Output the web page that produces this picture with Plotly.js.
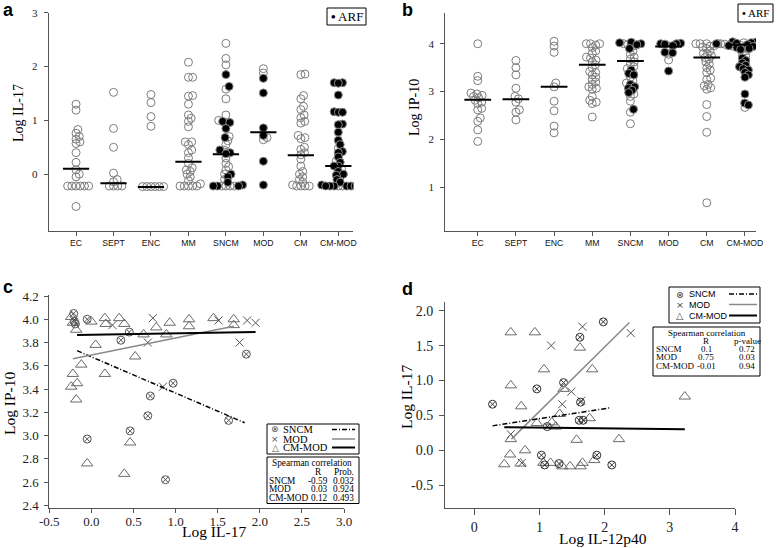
<!DOCTYPE html>
<html>
<head>
<meta charset="utf-8">
<script src="https://cdn.plot.ly/plotly-3.0.1.min.js"></script>
<style>html,body{margin:0;padding:0;background:#fff}</style>
</head>
<body>
<div id="chart" style="width:777px;height:548px"></div>
<script>
// groups on the x axis of panels a and b
var cats = ['EC', 'SEPT', 'ENC', 'MM', 'SNCM', 'MOD', 'CM', 'CM-MOD'];

// panel a: Log IL-17, non-ARF (open) and ARF (filled) per group
var il17Open = [
  [1.30, 1.19, 0.83, 0.76, 0.70, 0.65, 0.60, 0.57, 0.40, 0.22, 0.08, 0.0, -0.05, -0.22, -0.22, -0.22, -0.22, -0.22, -0.22, -0.60],
  [1.52, 0.85, 0.50, 0.02, -0.10, -0.14, -0.22, -0.22, -0.22, -0.22],
  [1.48, 1.33, 1.07, 0.89, -0.23, -0.23, -0.23, -0.23, -0.23, -0.23],
  [2.08, 1.80, 1.80, 1.46, 1.45, 1.30, 1.10, 1.04, 0.98, 0.88, 0.60, 0.60, 0.55, 0.45, 0.40, 0.30, 0.20, 0.12, 0.08, 0.05, 0.0, -0.05, -0.12, -0.18, -0.22, -0.22, -0.22, -0.22, -0.22],
  [2.43, 2.15, 2.03, 1.58, 1.40, 1.10, 1.00, 0.93, 0.70, 0.62, 0.55, 0.45, 0.30, 0.20, 0.14, 0.08, 0.0, -0.10, -0.22, -0.22, -0.22, -0.22],
  [1.96, 1.88, 0.68, 0.64],
  [1.86, 1.85, 1.46, 1.40, 1.26, 1.20, 1.10, 1.05, 0.98, 0.95, 0.72, 0.68, 0.66, 0.50, 0.46, 0.40, 0.36, 0.28, 0.15, 0.05, 0.0, -0.05, -0.10, -0.15, -0.20, -0.22, -0.22, -0.22, -0.22],
  [0.48, 0.25, 0.10, -0.05, -0.22, -0.22]
];
var il17Arf = [
  [], [], [], [],
  [1.85, 1.63, 0.98, 0.96, 0.85, 0.68, 0.45, 0.40, 0.38, 0.0, -0.05, -0.15, -0.20, -0.22, -0.22, -0.22],
  [1.78, 1.51, 0.86, 0.72, 0.24, -0.20],
  [],
  [1.70, 1.70, 1.69, 1.47, 1.16, 1.15, 1.15, 0.93, 0.92, 0.78, 0.63, 0.55, 0.42, 0.40, 0.32, 0.22, 0.15, 0.15, 0.05, 0.0, -0.02, -0.10, -0.15, -0.18, -0.20, -0.22, -0.22, -0.22, -0.22, -0.22, -0.22]
];
var il17Median = [0.10, -0.17, -0.24, 0.23, 0.37, 0.78, 0.35, 0.15];

// panel b: Log IP-10
var ip10Open = [
  [4.00, 3.32, 3.23, 2.97, 2.95, 2.92, 2.90, 2.87, 2.82, 2.78, 2.75, 2.65, 2.62, 2.45, 2.38, 2.20, 1.96],
  [3.65, 3.50, 3.35, 3.07, 2.90, 2.85, 2.78, 2.62, 2.57, 2.41],
  [4.05, 3.95, 3.82, 3.18, 3.10, 2.80, 2.60, 2.28, 2.14],
  [4.00, 4.00, 4.00, 3.97, 3.92, 3.85, 3.80, 3.72, 3.70, 3.66, 3.62, 3.56, 3.50, 3.42, 3.40, 3.35, 3.30, 3.25, 3.20, 3.15, 3.10, 3.07, 3.05, 2.90, 2.82, 2.78, 2.75, 2.47],
  [4.00, 3.98, 3.95, 3.85, 3.78, 3.72, 3.68, 3.62, 3.58, 3.52, 3.48, 3.30, 3.22, 3.18, 2.95, 2.90, 2.80, 2.57, 2.33],
  [3.95, 3.78, 3.66],
  [4.00, 4.00, 4.00, 4.00, 3.96, 3.95, 3.93, 3.90, 3.85, 3.80, 3.78, 3.75, 3.71, 3.68, 3.62, 3.57, 3.50, 3.45, 3.40, 3.28, 3.25, 3.15, 3.12, 3.08, 3.05, 2.73, 2.48, 2.15, 0.68],
  [4.02, 4.00, 3.99, 3.97, 3.95, 3.93, 3.85, 3.80, 3.75, 2.67]
];
var ip10Arf = [
  [], [], [], [],
  [4.03, 4.02, 4.00, 3.98, 3.90, 3.45, 3.38, 3.35, 3.15, 3.10, 3.07, 3.03, 2.98, 2.63],
  [4.01, 4.00, 4.00, 3.99, 3.96, 3.82, 3.81, 3.43],
  [],
  [4.04, 4.03, 4.02, 4.01, 4.00, 4.00, 3.99, 3.98, 3.97, 3.96, 3.95, 3.94, 3.92, 3.90, 3.88, 3.70, 3.65, 3.60, 3.55, 3.52, 3.48, 3.45, 3.40, 3.35, 3.30, 2.95, 2.76, 2.72]
];
var ip10Median = [2.83, 2.84, 3.10, 3.56, 3.64, 3.94, 3.71, 3.98];

// panel c: Log IL-17 (x) vs Log IP-10 (y)
var cSncmX = [-0.21, -0.20, -0.19, -0.05, 0.35, 0.45, 0.67, 0.70, 0.97, 0.46, -0.05, 0.88, 1.63, 1.84];
var cSncmY = [4.05, 3.98, 3.96, 4.00, 3.82, 3.89, 3.17, 3.34, 3.45, 3.04, 2.97, 2.62, 3.13, 3.70];
var cModX = [-0.21, 0.25, 0.73, 0.67, 0.85, 1.51, 1.85, 1.95, 1.76];
var cModY = [3.99, 3.95, 4.01, 3.80, 3.42, 3.99, 3.99, 3.97, 3.80];
var cCmModX = [-0.24, -0.22, -0.18, 0.0, 0.16, 0.17, 0.33, 0.39, 0.05, 0.52, -0.12, -0.22, 0.16, -0.17, -0.24, -0.18, 0.46, -0.05, 0.39, 0.62, 0.77, 0.93, 0.89, 1.16, 1.16, 1.45, 1.69, 1.69];
var cCmModY = [4.02, 3.97, 3.91, 3.98, 4.01, 3.96, 4.01, 3.96, 3.78, 3.68, 3.61, 3.53, 3.53, 3.45, 3.42, 3.31, 2.94, 2.76, 2.67, 3.87, 3.93, 3.97, 3.87, 4.00, 3.94, 4.01, 4.00, 3.95];
var cFitSncmX = [-0.17, 1.82], cFitSncmY = [3.73, 3.11];
var cFitModX = [-0.22, 1.69], cFitModY = [3.66, 3.94];
var cFitCmModX = [-0.17, 1.95], cFitCmModY = [3.865, 3.89];
var cStats = [['SNCM', '-0.59', '0.032'], ['MOD', '0.03', '0.924'], ['CM-MOD', '0.12', '0.493']];
var cTicksX = [-0.5, 0, 0.5, 1, 1.5, 2, 2.5, 3];
var cTicksY = [2.4, 2.6, 2.8, 3.0, 3.2, 3.4, 3.6, 3.8, 4.0, 4.2];

// panel d: Log IL-12p40 (x) vs Log IL-17 (y)
var dSncmX = [0.28, 0.96, 1.37, 1.62, 1.98, 1.63, 1.61, 1.67, 1.12, 1.03, 1.08, 1.30, 1.88, 2.11];
var dSncmY = [0.66, 0.88, 0.97, 1.62, 1.84, 0.69, 0.43, 0.43, 0.34, -0.07, -0.21, -0.19, -0.07, -0.21];
var dModX = [1.66, 2.40, 1.18, 1.49, 1.35, 1.64, 0.56, 0.73];
var dModY = [1.77, 1.68, 1.50, 0.84, 0.66, 0.71, 0.23, -0.18];
var dCmModX = [0.56, 0.93, 1.62, 1.07, 1.81, 0.56, 0.72, 1.37, 1.31, 0.96, 1.19, 1.25, 1.77, 0.56, 1.57, 2.22, 3.23, 0.55, 0.78, 0.46, 0.71, 1.06, 1.17, 1.35, 1.47, 1.63, 1.66, 1.84];
var dCmModY = [1.69, 1.69, 1.47, 1.16, 1.16, 0.93, 0.63, 0.88, 0.52, 0.39, 0.40, 0.34, 0.46, 0.16, 0.15, 0.16, 0.77, -0.06, 0.0, -0.20, -0.19, -0.18, -0.18, -0.23, -0.23, -0.23, -0.18, -0.14];
var dFitSncmX = [0.28, 2.09], dFitSncmY = [0.35, 0.61];
var dFitModX = [0.57, 2.38], dFitModY = [0.16, 1.83];
var dFitCmModX = [0.46, 3.23], dFitCmModY = [0.33, 0.30];
var dStats = [['SNCM', '0.1', '0.72'], ['MOD', '0.75', '0.03'], ['CM-MOD', '-0.01', '0.94']];
var dTicksX = [0, 1, 2, 3, 4];
var dTicksY = [-0.5, 0, 0.5, 1, 1.5, 2];

var SERIF = 'Liberation Serif, Times New Roman, serif';
var SANS = 'Liberation Sans, Arial, sans-serif';
var W = 777, H = 548;
function fx(p) { return p / W; }
function fy(p) { return 1 - p / H; }
function fmt1(v) { return v.toFixed(1); }

// simple beeswarm: side-by-side offsets (pixels -> category units)
function swarm(vals, yScale, xScale, gap) {
  var order = vals.map(function (v, i) { return i; }).sort(function (a, b) { return vals[a] - vals[b]; });
  var placed = [], off = [];
  order.forEach(function (i) {
    var y = vals[i] * yScale;
    var cands = [0];
    placed.forEach(function (p) {
      var dy = Math.abs(p.y - y);
      if (dy < gap) {
        var dx = Math.sqrt(gap * gap - dy * dy);
        cands.push(p.x + dx, p.x - dx);
      }
    });
    cands.sort(function (a, b) { return Math.abs(a) - Math.abs(b); });
    var x = cands.find(function (c) {
      return placed.every(function (p) { return (p.x - c) * (p.x - c) + (p.y - y) * (p.y - y) >= gap * gap - 0.01; });
    });
    placed.push({ x: x, y: y });
    off[i] = x / xScale;
  });
  return off;
}

function stripTraces(openVals, arfVals, yScale, xScale, xa, ya) {
  var ox = [], oy = [], fxs = [], fys = [];
  cats.forEach(function (c, g) {
    var all = openVals[g].concat(arfVals[g]);
    var off = swarm(all, yScale, xScale, 4.2);
    all.forEach(function (v, k) {
      if (k < openVals[g].length) { ox.push(g + off[k]); oy.push(v); }
      else { fxs.push(g + off[k]); fys.push(v); }
    });
  });
  return [
    { x: ox, y: oy, xaxis: xa, yaxis: ya, type: 'scatter', mode: 'markers', hoverinfo: 'skip',
      marker: { symbol: 'circle-open', size: 8, color: '#7d7d7d', line: { width: 1 } } },
    { x: fxs, y: fys, xaxis: xa, yaxis: ya, type: 'scatter', mode: 'markers', hoverinfo: 'skip',
      marker: { symbol: 'circle', size: 8, color: '#000', line: { color: '#8a8a8a', width: 1 } } }
  ];
}

var traces = []
  .concat(stripTraces(il17Open, il17Arf, 53.8, 37.47, 'x', 'y'))
  .concat(stripTraces(ip10Open, ip10Arf, 47.9, 38.19, 'x2', 'y2'));

function pts(x, y, xa, ya, sym, size, col) {
  return { x: x, y: y, xaxis: xa, yaxis: ya, type: 'scatter', mode: 'markers', hoverinfo: 'skip',
    marker: { symbol: sym, size: size, color: col, line: { color: col, width: 1 } } };
}
function fit(x, y, xa, ya, col, w, dash) {
  return { x: x, y: y, xaxis: xa, yaxis: ya, type: 'scatter', mode: 'lines', hoverinfo: 'skip',
    line: { color: col, width: w, dash: dash } };
}
var DASHDOT = '5px,2px,1px,2px';
traces.push(
  pts(cCmModX, cCmModY, 'x3', 'y3', 'triangle-up-open', 10, '#6a6a6a'),
  pts(cModX, cModY, 'x3', 'y3', 'x-thin-open', 8, '#555'),
  pts(cSncmX, cSncmY, 'x3', 'y3', 'circle-x-open', 8, '#555'),
  fit(cFitSncmX, cFitSncmY, 'x3', 'y3', '#000', 1.5, DASHDOT),
  fit(cFitModX, cFitModY, 'x3', 'y3', '#8a8a8a', 1.5, 'solid'),
  fit(cFitCmModX, cFitCmModY, 'x3', 'y3', '#000', 2, 'solid'),
  pts(dCmModX, dCmModY, 'x4', 'y4', 'triangle-up-open', 10, '#6a6a6a'),
  pts(dModX, dModY, 'x4', 'y4', 'x-thin-open', 8, '#555'),
  pts(dSncmX, dSncmY, 'x4', 'y4', 'circle-x-open', 8, '#333'),
  fit(dFitSncmX, dFitSncmY, 'x4', 'y4', '#000', 1.5, DASHDOT),
  fit(dFitModX, dFitModY, 'x4', 'y4', '#8a8a8a', 1.5, 'solid'),
  fit(dFitCmModX, dFitCmModY, 'x4', 'y4', '#000', 2, 'solid')
);

function axis(dom, range, extra) {
  return Object.assign({
    domain: dom, range: range, showgrid: false, zeroline: false, showline: true,
    linecolor: '#555', linewidth: 1, ticks: 'outside', ticklen: 4, tickcolor: '#555',
    tickfont: { family: SERIF, size: 11, color: '#222' }, fixedrange: true
  }, extra);
}
var catX = { tickvals: [0, 1, 2, 3, 4, 5, 6, 7], ticktext: cats, tickfont: { family: SANS, size: 8.7, color: '#111' } };
var bigTick = { family: SERIF, size: 13, color: '#222' };

var shapes = [];
il17Median.forEach(function (m, g) {
  shapes.push({ type: 'line', xref: 'x', yref: 'y', x0: g - 0.35, x1: g + 0.35, y0: m, y1: m, line: { color: '#000', width: 2 } });
});
ip10Median.forEach(function (m, g) {
  shapes.push({ type: 'line', xref: 'x2', yref: 'y2', x0: g - 0.35, x1: g + 0.35, y0: m, y1: m, line: { color: '#000', width: 2 } });
});
function box(x0, y0, x1, y1) {
  return { type: 'rect', xref: 'paper', yref: 'paper', x0: fx(x0), x1: fx(x1), y0: fy(y1), y1: fy(y0), line: { color: '#000', width: 1 } };
}
function seg(x0, x1, y, col, w, dash) {
  return { type: 'line', xref: 'paper', yref: 'paper', x0: fx(x0), x1: fx(x1), y0: fy(y), y1: fy(y), line: { color: col, width: w, dash: dash } };
}
shapes.push(box(327, 8, 366, 25), box(738, 4, 773, 22));
shapes.push(box(267, 424, 359, 454), box(267, 457, 359, 503.5));
shapes.push(box(669, 287, 760, 323), box(653, 327, 760, 376));
shapes.push(seg(332, 355, 429.5, '#000', 1.5, DASHDOT), seg(332, 355, 439, '#8a8a8a', 1.5, 'solid'), seg(332, 355, 447.5, '#000', 2, 'solid'));
shapes.push(seg(729, 757, 294, '#000', 1.5, DASHDOT), seg(729, 757, 304.5, '#8a8a8a', 1.5, 'solid'), seg(729, 757, 315.5, '#000', 2, 'solid'));

function note(px, py, text, opt) {
  return Object.assign({ xref: 'paper', yref: 'paper', x: fx(px), y: fy(py), text: text, showarrow: false,
    xanchor: 'center', yanchor: 'middle', borderpad: 0, font: { family: SERIF, size: 10, color: '#000' } }, opt || {});
}
function f(fam, size, col) { return { family: fam, size: size, color: col || '#000' }; }
var ann = [
  note(8, 10, '<b>a</b>', { font: f(SANS, 18) }),
  note(407, 10, '<b>b</b>', { font: f(SANS, 18) }),
  note(8, 287, '<b>c</b>', { font: f(SANS, 18) }),
  note(408, 289, '<b>d</b>', { font: f(SANS, 18) }),
  note(346.5, 16.5, '<b>•</b> ARF', { font: f(SERIF, 13) }),
  note(755.5, 13, '<b>•</b> ARF', { font: f(SERIF, 11) }),
  note(18, 113, 'Log IL-17', { textangle: -90, font: f(SERIF, 14) }),
  note(415, 108, 'Log IP-10', { textangle: -90, font: f(SERIF, 14) }),
  note(9, 403, 'Log IP-10', { textangle: -90, font: f(SERIF, 15.5) }),
  note(214, 531.5, 'Log IL-17', { font: f(SERIF, 15.5) }),
  note(406, 397, 'Log IL-17', { textangle: -90, font: f(SERIF, 15.5) }),
  note(603, 538.5, 'Log IL-12p40', { font: f(SERIF, 15.5) })
];
// legends for the fits
var cRows = [429.5, 439, 447.5], dRows = [294, 304.5, 315.5];
var syms = ['⊗', '×', '△'], names = ['SNCM', 'MOD', 'CM-MOD'];
names.forEach(function (n, i) {
  ann.push(note(275, cRows[i], syms[i], { font: f('DejaVu Sans', 9, '#555') }));
  ann.push(note(282, cRows[i], n, { xanchor: 'left', font: f(SERIF, 10.5) }));
  ann.push(note(680, dRows[i], syms[i], { font: f('DejaVu Sans', 9.5, '#444') }));
  ann.push(note(687.5, dRows[i], n, { xanchor: 'left', font: f(SANS, 9) }));
});
// spearman tables
ann.push(note(271, 462.7, 'Spearman correlation', { xanchor: 'left', font: f(SERIF, 9.3) }));
ann.push(note(323, 471.5, 'R', { xanchor: 'right', font: f(SERIF, 9.3) }));
ann.push(note(354.5, 471.5, 'Prob.', { xanchor: 'right', font: f(SERIF, 9.3) }));
var cStatRows = [480.5, 489, 497.5];
cStats.forEach(function (r, i) {
  ann.push(note(268, cStatRows[i], r[0], { xanchor: 'left', font: f(SERIF, 9.3) }));
  ann.push(note(328.5, cStatRows[i], r[1], { xanchor: 'right', font: f(SERIF, 9.3) }));
  ann.push(note(354.5, cStatRows[i], r[2], { xanchor: 'right', font: f(SERIF, 9.3) }));
});
ann.push(note(707, 332.7, 'Spearman correlation', { font: f(SERIF, 9) }));
ann.push(note(706, 340.7, 'R', { font: f(SERIF, 9) }));
ann.push(note(747, 340.7, 'p-value', { font: f(SERIF, 9) }));
var dStatRows = [349, 357.3, 365.7];
dStats.forEach(function (r, i) {
  ann.push(note(655, dStatRows[i], r[0], { xanchor: 'left', font: f(SERIF, 9) }));
  ann.push(note(706, dStatRows[i], r[1], { font: f(SERIF, 9) }));
  ann.push(note(747, dStatRows[i], r[2], { font: f(SERIF, 9) }));
});

var layout = {
  width: W, height: H, margin: { l: 0, r: 0, t: 0, b: 0 }, showlegend: false,
  paper_bgcolor: '#fff', plot_bgcolor: 'rgba(0,0,0,0)',
  xaxis: axis([fx(48.7), fx(353.3)], [-0.73, 7.4], Object.assign({ anchor: 'y' }, catX)),
  yaxis: axis([fy(230.7), fy(12.7)], [-1.05, 3.0], { anchor: 'x', tickvals: [0, 1, 2, 3], ticklabelstandoff: 4 }),
  xaxis2: axis([fx(445.3), fx(756)], [-0.85, 7.29], Object.assign({ anchor: 'y2' }, catX)),
  yaxis2: axis([fy(231), fy(13.3)], [0.09, 4.635], { anchor: 'x2', tickvals: [1, 2, 3, 4], ticklabelstandoff: 4 }),
  xaxis3: axis([fx(49.3), fx(344)], [-0.5, 3.0], { anchor: 'y3', tickvals: cTicksX, ticktext: cTicksX.map(fmt1),
    tickfont: bigTick, ticklabelstandoff: -3 }),
  yaxis3: axis([fy(508.3), fy(295)], [2.374, 4.209], { anchor: 'x3', tickvals: cTicksY, ticktext: cTicksY.map(fmt1),
    tickfont: bigTick, ticklabelstandoff: 3 }),
  xaxis4: axis([fx(445), fx(735)], [-0.449, 4.0], { anchor: 'y4', tickvals: dTicksX, ticktext: dTicksX.map(String),
    tickfont: f(SERIF, 14, '#222'), ticklen: 6 }),
  yaxis4: axis([fy(508.3), fy(301.7)], [-0.831, 2.129], { anchor: 'x4', tickvals: dTicksY, ticktext: dTicksY.map(fmt1),
    tickfont: f(SERIF, 14, '#222'), ticklen: 5, ticklabelstandoff: 3 }),
  shapes: shapes,
  annotations: ann
};

Plotly.newPlot('chart', traces, layout, { displayModeBar: false, staticPlot: true });
</script>
</body>
</html>
